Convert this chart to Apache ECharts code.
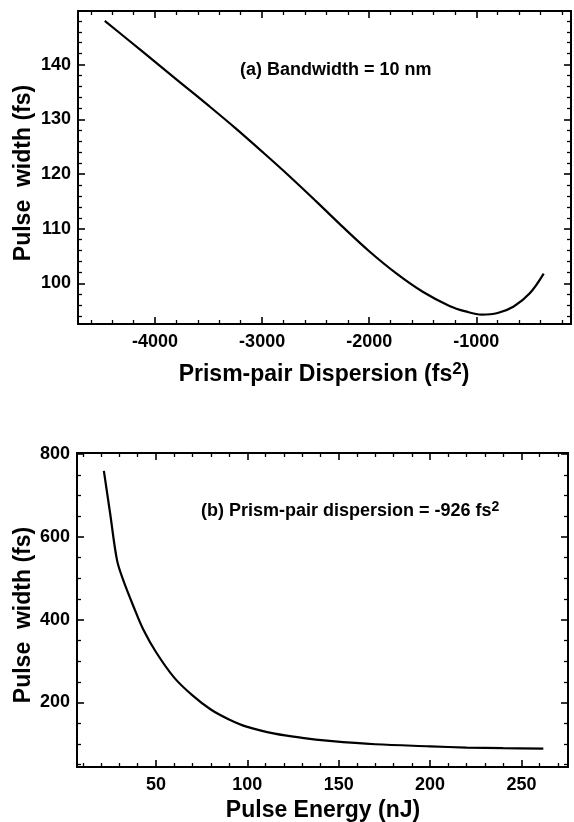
<!DOCTYPE html>
<html><head><meta charset="utf-8">
<script src="https://cdn.jsdelivr.net/npm/echarts@6/dist/echarts.min.js"></script>
<style>html,body{margin:0;padding:0;background:#fff}#c{width:574px;height:822px}</style>
</head><body><div id="c"></div>
<script>
// Panel (a): pulse width vs prism-pair dispersion
const dispersion = [-4470, -4250, -4000, -3750, -3500, -3250, -3000, -2750, -2500, -2250, -2000, -1750, -1500, -1250, -1100, -950, -800, -650, -500, -370];
const widthA =     [148.0, 144.5, 140.5, 136.5, 132.5, 128.4, 124.1, 119.7, 115.1, 110.4, 105.9, 101.9, 98.5, 95.9, 94.9, 94.3, 94.6, 95.8, 98.2, 101.8];
// Panel (b): pulse width vs pulse energy
const energy = [21.5, 25, 28.7, 32, 38, 43, 50, 60, 70, 80, 90, 100, 115, 130, 145, 170, 200, 220, 240, 262];
const widthB = [760, 655, 544, 497, 429, 377, 322, 260, 217, 183, 159, 141, 124.5, 114.5, 107.3, 99, 94, 91, 89.5, 88.5];
// Tick labels
const xTicksA = [-4000, -3000, -2000, -1000];
const yTicksA = [100, 110, 120, 130, 140];
const xTicksB = [50, 100, 150, 200, 250];
const yTicksB = [200, 400, 600, 800];

const FONT = '"Liberation Sans", Arial, Helvetica, sans-serif';
const BLACK = '#000';

function onlyTicks(list) {
  return function (v) {
    for (const t of list) if (Math.abs(t - v) < 1e-6) return String(t);
    return '';
  };
}
function minor(n) {
  return { show: true, splitNumber: n, length: 4, lineStyle: { color: BLACK, width: 1.3 } };
}
function axis(opts) {
  return Object.assign({
    type: 'value',
    scale: true,
    axisLine: { show: true, onZero: false, lineStyle: { color: BLACK, width: 2 } },
    axisTick: { show: true, inside: true, length: 7, lineStyle: { color: BLACK, width: 1.6 } },
    splitLine: { show: false },
    minorSplitLine: { show: false },
    axisLabel: { show: false }
  }, opts);
}
function labelStyle(list, margin) {
  return { show: true, margin: margin, color: BLACK, fontFamily: FONT, fontWeight: 'bold', fontSize: 18, formatter: onlyTicks(list), showMinLabel: true, showMaxLabel: true };
}

const xA = [-4720, -115], yA = [92.6, 149.8];
const xB = [6.8, 275.5], yB = [44, 803];

const option = {
  animation: false,
  backgroundColor: '#fff',
  grid: [
    { left: 78, top: 11, width: 493, height: 313 },
    { left: 77, top: 453, width: 491, height: 314 }
  ],
  xAxis: [
    axis({ gridIndex: 0, position: 'bottom', min: xA[0], max: xA[1], minorTick: minor(5), axisLabel: labelStyle(xTicksA, 9) }),
    axis({ gridIndex: 0, position: 'top', min: xA[0], max: xA[1], minorTick: minor(5) }),
    axis({ gridIndex: 1, position: 'bottom', min: xB[0], max: xB[1], minorTick: minor(5), axisLabel: labelStyle(xTicksB, 9) }),
    axis({ gridIndex: 1, position: 'top', min: xB[0], max: xB[1], minorTick: minor(5) })
  ],
  yAxis: [
    axis({ gridIndex: 0, position: 'left', min: yA[0], max: yA[1], minorTick: minor(5), axisLabel: labelStyle(yTicksA, 7) }),
    axis({ gridIndex: 0, position: 'right', min: yA[0], max: yA[1], minorTick: minor(5) }),
    axis({ gridIndex: 1, position: 'left', min: yB[0], max: yB[1], minorTick: minor(4), axisLabel: labelStyle(yTicksB, 7) }),
    axis({ gridIndex: 1, position: 'right', min: yB[0], max: yB[1], minorTick: minor(4) })
  ],
  series: [
    {
      type: 'line', xAxisIndex: 0, yAxisIndex: 0,
      data: dispersion.map((x, i) => [x, widthA[i]]),
      showSymbol: false, smooth: 0.35,
      lineStyle: { color: BLACK, width: 2.2 }
    },
    {
      type: 'line', xAxisIndex: 2, yAxisIndex: 2,
      data: energy.map((x, i) => [x, widthB[i]]),
      showSymbol: false, smooth: 0.35,
      lineStyle: { color: BLACK, width: 2.2 }
    }
  ],
  graphic: [
    { type: 'text', x: 24, y: 173, rotation: Math.PI / 2,
      style: { text: 'Pulse  width (fs)', fill: BLACK, fontFamily: FONT, fontWeight: 'bold', fontSize: 23, align: 'center', verticalAlign: 'middle' } },
    { type: 'text', x: 24, y: 615, rotation: Math.PI / 2,
      style: { text: 'Pulse  width (fs)', fill: BLACK, fontFamily: FONT, fontWeight: 'bold', fontSize: 23, align: 'center', verticalAlign: 'middle' } },
    { type: 'text', x: 324, y: 375,
      style: { text: 'Prism-pair Dispersion (fs{sup|2})', fill: BLACK, fontFamily: FONT, fontWeight: 'bold', fontSize: 23, lineHeight: 28, align: 'center', verticalAlign: 'middle',
        rich: { sup: { fontFamily: FONT, fontWeight: 'bold', fontSize: 17, verticalAlign: 'top', fill: BLACK } } } },
    { type: 'text', x: 323, y: 811,
      style: { text: 'Pulse Energy (nJ)', fill: BLACK, fontFamily: FONT, fontWeight: 'bold', fontSize: 23, align: 'center', verticalAlign: 'middle' } },
    { type: 'text', x: 240, y: 70,
      style: { text: '(a) Bandwidth = 10 nm', fill: BLACK, fontFamily: FONT, fontWeight: 'bold', fontSize: 18, align: 'left', verticalAlign: 'middle' } },
    { type: 'text', x: 201, y: 511,
      style: { text: '(b) Prism-pair dispersion = -926 fs{sup|2}', fill: BLACK, fontFamily: FONT, fontWeight: 'bold', fontSize: 18, lineHeight: 22, align: 'left', verticalAlign: 'middle',
        rich: { sup: { fontFamily: FONT, fontWeight: 'bold', fontSize: 14, verticalAlign: 'top', fill: BLACK } } } }
  ]
};
const chart = echarts.init(document.getElementById('c'), null, { renderer: 'canvas' });
chart.setOption(option);
</script>
</body></html>
